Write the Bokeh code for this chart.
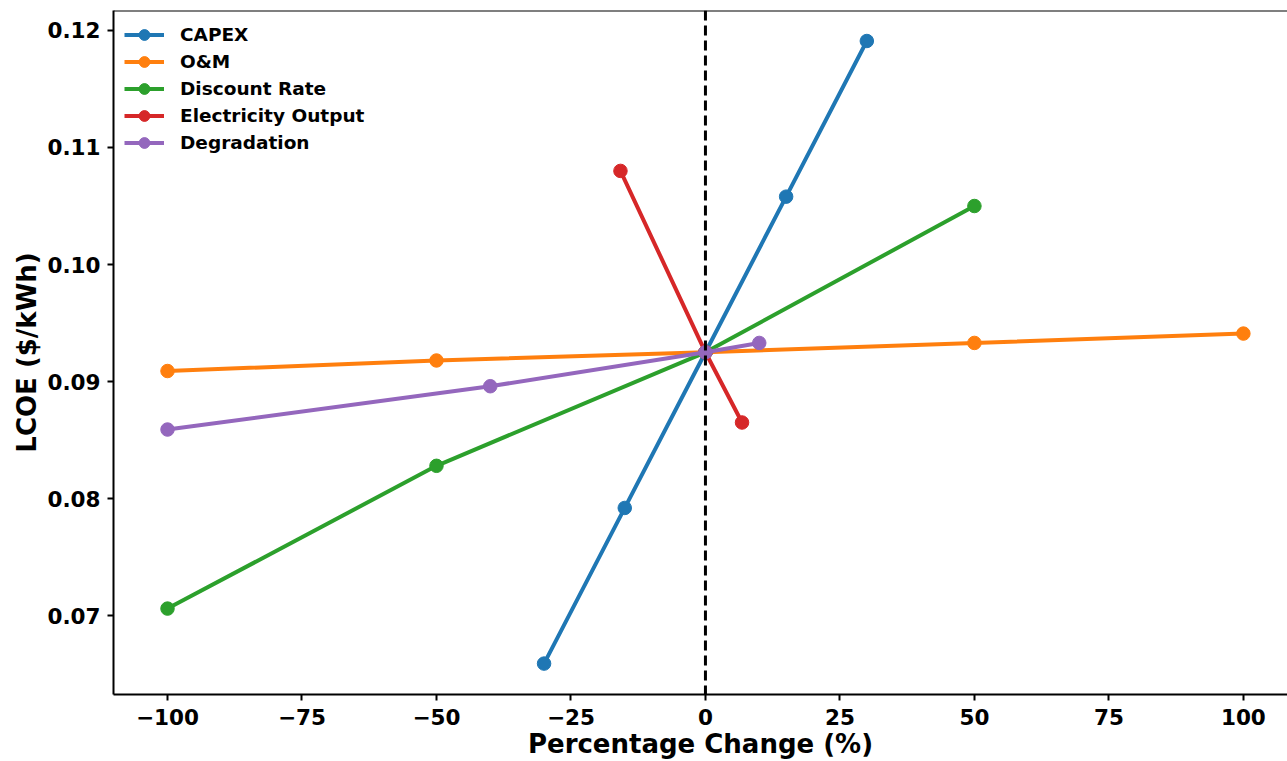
from bokeh.plotting import figure
from bokeh.models import Span, FixedTicker, CustomJSTickFormatter, Range1d
from bokeh.embed import file_html
from bokeh.resources import INLINE

# ---- data ----
capex_x = [-30, -15, 0, 15, 30]
capex_y = [0.0659, 0.0792, 0.0925, 0.1058, 0.1191]

om_x = [-100, -50, 0, 50, 100]
om_y = [0.0909, 0.0918, 0.0925, 0.0933, 0.0941]

disc_x = [-100, -50, 0, 50]
disc_y = [0.0706, 0.0828, 0.0925, 0.1050]

elec_x = [-15.8, 0, 6.8]
elec_y = [0.1080, 0.0925, 0.0865]

degr_x = [-100, -40, 0, 10]
degr_y = [0.0859, 0.0896, 0.0925, 0.0933]

series_names = ["CAPEX", "O&M", "Discount Rate", "Electricity Output", "Degradation"]
series_colors = ["#1f77b4", "#ff7f0e", "#2ca02c", "#d62728", "#9467bd"]
x_ticks = [-100, -75, -50, -25, 0, 25, 50, 75, 100]
y_ticks = [0.07, 0.08, 0.09, 0.10, 0.11, 0.12]

FONT = "DejaVu Sans"
Y_TOP = 0.121706

p = figure(width=1287, height=761, output_backend="svg", toolbar_location=None,
           x_range=Range1d(-110.04, 108.2), y_range=Range1d(0.063259, Y_TOP),
           min_border_left=113, min_border_right=0, min_border_top=10, min_border_bottom=66)

p.outline_line_color = None
p.xgrid.visible = False
p.ygrid.visible = False

data = [(capex_x, capex_y), (om_x, om_y), (disc_x, disc_y), (elec_x, elec_y), (degr_x, degr_y)]
for (xs, ys), name, col in zip(data, series_names, series_colors):
    p.line(xs, ys, line_color=col, line_width=4, legend_label=name)
    p.scatter(xs, ys, size=13.5, fill_color=col, line_color=col, legend_label=name)

p.add_layout(Span(location=0, dimension="height", line_color="black", line_width=3,
                  line_dash="10 5"))
p.add_layout(Span(location=Y_TOP, dimension="width", line_color="black", line_width=2))

for ax in (p.xaxis[0], p.yaxis[0]):
    ax.axis_line_width = 2
    ax.axis_line_color = "black"
    ax.major_tick_line_width = 2
    ax.major_tick_out = 6
    ax.major_tick_in = 0
    ax.minor_tick_out = 0
    ax.minor_tick_in = 0
    ax.major_label_text_font = FONT
    ax.major_label_text_font_style = "bold"
    ax.major_label_text_font_size = "21.5px"
    ax.major_label_text_color = "black"
    ax.axis_label_text_font = FONT
    ax.axis_label_text_font_style = "bold"
    ax.axis_label_text_font_size = "26px"
    ax.axis_label_text_color = "black"

p.xaxis.ticker = FixedTicker(ticks=x_ticks)
p.yaxis.ticker = FixedTicker(ticks=y_ticks)
p.xaxis.formatter = CustomJSTickFormatter(code="""
return tick < 0 ? "\\u2212" + Math.abs(tick).toFixed(0) : tick.toFixed(0);
""")
p.yaxis.formatter = CustomJSTickFormatter(code="return tick.toFixed(2);")
p.xaxis.major_label_standoff = 8
p.yaxis.major_label_standoff = 7
p.xaxis.axis_label = "Percentage Change (%)"
p.yaxis.axis_label = "LCOE ($/kWh)"
p.xaxis.axis_label_standoff = 1
p.yaxis.axis_label_standoff = 2

lg = p.legend[0]
lg.location = "top_left"
lg.margin = 11
lg.padding = 12
lg.spacing = 0
lg.glyph_width = 40
lg.glyph_height = 27
lg.label_height = 27
lg.label_standoff = 16
lg.label_text_font = FONT
lg.label_text_font_style = "bold"
lg.label_text_font_size = "18.5px"
lg.label_text_color = "black"
lg.border_line_color = None
lg.background_fill_alpha = 0

open("out.html", "w").write(file_html(p, INLINE))
